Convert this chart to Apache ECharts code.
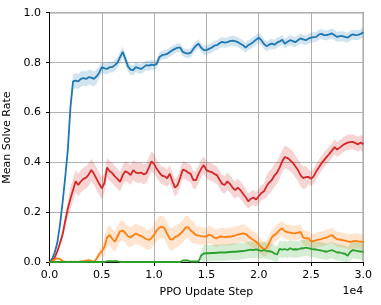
<!DOCTYPE html>
<html><head><meta charset="utf-8">
<script src="https://cdn.jsdelivr.net/npm/echarts@6/dist/echarts.min.js"></script>
<style>html,body{margin:0;padding:0;background:#fff}#c{width:381px;height:305px}</style>
</head><body><div id="c"></div>
<script>
const steps = [
0,250,500,750,1000,1250,1500,1750,2000,2250,
2500,2750,3000,3250,3500,3750,4000,4250,4500,4750,
5000,5250,5500,5750,6000,6250,6500,6750,7000,7250,
7500,7750,8000,8250,8500,8750,9000,9250,9500,9750,
10000,10250,10500,10750,11000,11250,11500,11750,12000,12250,
12500,12750,13000,13250,13500,13750,14000,14250,14500,14750,
15000,15250,15500,15750,16000,16250,16500,16750,17000,17250,
17500,17750,18000,18250,18500,18750,19000,19250,19500,19750,
20000,20250,20500,20750,21000,21250,21500,21750,22000,22250,
22500,22750,23000,23250,23500,23750,24000,24250,24500,24750,
25000,25250,25500,25750,26000,26250,26500,26750,27000,27250,
27500,27750,28000,28250,28500,28750,29000,29250,29500,29750,
30000];

const blueMean = [
0,.015,.04,.08,.15,.24,.34,.45,.62,.725,
.728,.725,.735,.738,.735,.742,.74,.735,.745,.76,
.782,.777,.775,.782,.782,.79,.80,.822,.843,.815,
.785,.772,.77,.782,.778,.775,.782,.79,.788,.792,
.79,.795,.822,.83,.832,.835,.843,.85,.855,.86,
.86,.843,.838,.836,.84,.855,.868,.876,.86,.85,
.85,.855,.86,.868,.87,.878,.883,.88,.882,.886,
.888,.886,.882,.876,.87,.86,.87,.876,.883,.892,
.9,.89,.875,.866,.872,.876,.872,.88,.885,.892,
.876,.884,.89,.886,.882,.89,.897,.893,.89,.896,
.9,.902,.903,.912,.915,.91,.91,.913,.917,.91,
.903,.906,.906,.903,.9,.908,.913,.91,.911,.915,
.922];
const blueBand = [
.003,.005,.008,.01,.012,.015,.015,.015,.02,.03,
.03,.03,.03,.03,.03,.03,.03,.03,.03,.022,
.022,.022,.022,.022,.022,.022,.022,.022,.022,.02,
.02,.02,.02,.02,.02,.02,.02,.02,.02,.02,
.018,.018,.018,.018,.018,.018,.018,.018,.018,.018,
.018,.018,.018,.018,.018,.018,.018,.018,.018,.018,
.02,.02,.02,.02,.02,.02,.02,.02,.02,.02,
.02,.02,.02,.02,.02,.02,.02,.02,.02,.02,
.02,.02,.02,.02,.02,.02,.02,.02,.02,.02,
.02,.02,.02,.02,.02,.02,.02,.02,.02,.02,
.02,.02,.02,.02,.02,.02,.02,.02,.02,.02,
.02,.02,.02,.02,.02,.02,.02,.02,.02,.02,
.02];

const redMean = [
0,.007,.02,.045,.077,.112,.165,.215,.255,.29,
.325,.31,.325,.335,.34,.352,.37,.355,.335,.315,
.297,.318,.38,.365,.358,.345,.335,.323,.35,.365,
.36,.35,.37,.36,.358,.36,.353,.357,.38,.405,
.395,.375,.36,.348,.345,.337,.355,.325,.3,.31,
.34,.372,.368,.36,.355,.33,.33,.355,.375,.39,
.37,.365,.362,.355,.35,.332,.315,.31,.325,.315,
.3,.29,.3,.29,.275,.262,.245,.255,.26,.252,
.265,.278,.285,.305,.32,.33,.348,.36,.38,.405,
.422,.418,.41,.4,.385,.37,.35,.338,.342,.343,
.335,.345,.365,.38,.397,.41,.423,.435,.448,.462,
.452,.46,.468,.475,.48,.482,.483,.478,.473,.48,
.474];
const redBand = [
.003,.005,.008,.012,.015,.02,.025,.03,.045,.045,
.045,.045,.045,.045,.045,.045,.045,.045,.045,.045,
.045,.04,.04,.04,.04,.04,.04,.04,.04,.04,
.04,.04,.04,.04,.04,.04,.04,.04,.04,.04,
.04,.035,.035,.035,.035,.035,.035,.035,.035,.035,
.035,.035,.035,.035,.035,.035,.035,.035,.035,.035,
.035,.035,.035,.035,.035,.035,.035,.035,.035,.035,
.035,.035,.035,.035,.035,.035,.03,.03,.03,.03,
.03,.03,.03,.045,.045,.045,.045,.045,.045,.045,
.045,.045,.045,.045,.045,.045,.045,.045,.045,.03,
.03,.03,.03,.03,.03,.03,.03,.03,.03,.03,
.03,.03,.03,.03,.03,.03,.03,.03,.03,.03,
.03];

const orangeMean = [
0,.005,.012,.017,.014,.006,.003,.002,.003,.002,
.003,.002,.004,.005,.007,.01,.006,.003,.015,.033,
.045,.062,.1,.11,.095,.083,.105,.125,.128,.118,
.105,.1,.108,.116,.11,.107,.1,.094,.09,.097,
.112,.128,.14,.143,.137,.115,.095,.092,.103,.106,
.115,.125,.14,.142,.128,.12,.11,.108,.106,.105,
.103,.112,.108,.1,.097,.103,.104,.102,.104,.103,
.106,.108,.112,.115,.117,.115,.105,.097,.09,.083,
.073,.062,.052,.058,.078,.1,.11,.118,.13,.137,
.125,.122,.12,.118,.117,.12,.123,.1,.097,.097,
.085,.085,.09,.092,.094,.098,.1,.105,.11,.1,
.093,.092,.09,.088,.085,.083,.085,.087,.085,.083,
.083];
const orangeBand = [
.004,.004,.004,.004,.004,.004,.004,.004,.004,.004,
.004,.004,.004,.004,.004,.004,.004,.004,.01,.015,
.02,.04,.04,.04,.04,.04,.04,.04,.04,.04,
.04,.04,.04,.04,.04,.04,.04,.04,.04,.04,
.04,.045,.045,.045,.045,.045,.045,.045,.045,.045,
.045,.045,.045,.045,.045,.045,.035,.035,.035,.035,
.035,.035,.035,.035,.035,.035,.035,.035,.035,.035,
.035,.035,.035,.035,.035,.035,.035,.035,.035,.035,
.035,.03,.03,.03,.03,.03,.03,.03,.03,.03,
.03,.03,.03,.03,.03,.03,.03,.03,.03,.03,
.03,.03,.03,.03,.03,.03,.03,.03,.03,.03,
.03,.03,.03,.03,.03,.03,.03,.03,.03,.03,
.03];

const greenMean = [
0,.002,.002,.002,.002,.002,.002,.002,.002,.002,
.002,.002,.002,.002,.002,.002,.002,.002,.002,.002,
.002,.002,.005,.005,.005,.005,.005,.002,.002,.002,
.002,.002,.002,.002,.002,.002,.002,.002,.002,.002,
.002,.002,.002,.002,.002,.002,.002,.002,.002,.002,
.002,.008,.008,.008,.004,.004,.004,.004,.028,.036,
.037,.037,.038,.038,.039,.04,.04,.04,.041,.042,
.043,.043,.044,.045,.046,.048,.05,.052,.05,.053,
.05,.046,.05,.047,.045,.043,.036,.032,.055,.052,
.054,.05,.057,.052,.053,.052,.056,.057,.06,.058,
.055,.053,.052,.05,.048,.045,.043,.047,.05,.045,
.04,.04,.037,.035,.027,.042,.05,.048,.046,.044,
.043];
const greenBand = [
.003,.003,.003,.003,.003,.003,.003,.003,.003,.003,
.003,.003,.003,.003,.003,.003,.003,.003,.003,.003,
.003,.003,.003,.003,.003,.003,.003,.003,.003,.003,
.003,.003,.003,.003,.003,.003,.003,.003,.003,.003,
.003,.003,.003,.003,.003,.003,.003,.003,.003,.003,
.003,.003,.003,.003,.003,.003,.003,.003,.02,.033,
.033,.033,.033,.033,.033,.033,.033,.033,.033,.033,
.033,.033,.033,.033,.033,.033,.033,.033,.033,.033,
.033,.033,.033,.033,.033,.033,.033,.033,.033,.033,
.033,.033,.033,.033,.033,.033,.033,.033,.033,.033,
.033,.033,.033,.033,.033,.033,.033,.033,.033,.033,
.033,.033,.033,.033,.033,.033,.033,.033,.033,.033,
.033];

const xTicks = [0, 5000, 10000, 15000, 20000, 25000, 30000];
const yTicks = [0, 0.2, 0.4, 0.6, 0.8, 1.0];

const FONT = 'DejaVu Sans';
const FS = 11;
const seriesDefs = [
  {name: 'blue', mean: blueMean, band: blueBand, color: '#1f77b4', fill: 'rgba(31,119,180,0.2)'},
  {name: 'red', mean: redMean, band: redBand, color: '#d62728', fill: 'rgba(214,39,40,0.2)'},
  {name: 'orange', mean: orangeMean, band: orangeBand, color: '#ff7f0e', fill: 'rgba(255,127,14,0.2)'},
  {name: 'green', mean: greenMean, band: greenBand, color: '#2ca02c', fill: 'rgba(44,160,44,0.2)'}
];

const series = [];
seriesDefs.forEach(function (d) {
  series.push({
    type: 'custom',
    name: d.name + '_band',
    silent: true,
    clip: true,
    z: 1,
    data: steps.map(function (s, i) { return [s, d.mean[i] - d.band[i], d.mean[i] + d.band[i]]; }),
    encode: {x: 0, y: [1, 2]},
    renderItem: function (params, api) {
      if (params.dataIndex !== 0) return null;
      const pts = [];
      for (let i = 0; i < steps.length; i++) pts.push(api.coord([steps[i], d.mean[i] + d.band[i]]));
      for (let i = steps.length - 1; i >= 0; i--) pts.push(api.coord([steps[i], d.mean[i] - d.band[i]]));
      return {type: 'polygon', shape: {points: pts}, style: {fill: d.fill, stroke: null}};
    }
  });
});
seriesDefs.forEach(function (d) {
  series.push({
    type: 'line',
    name: d.name,
    z: 3,
    showSymbol: false,
    symbol: 'none',
    clip: true,
    data: steps.map(function (s, i) { return [s, d.mean[i]]; }),
    lineStyle: {color: d.color, width: 1.8},
    itemStyle: {color: d.color}
  });
});

const chart = echarts.init(document.getElementById('c'), null, {renderer: 'canvas'});
chart.setOption({
  animation: false,
  backgroundColor: '#fff',
  grid: {left: 49.5, right: 17.7, top: 12.7, bottom: 42.5, containLabel: false, outerBoundsMode: 'none',
    show: true, borderColor: '#000', borderWidth: 1, backgroundColor: 'transparent'},
  xAxis: {
    type: 'value', min: xTicks[0], max: xTicks[xTicks.length - 1], interval: 5000,
    name: 'PPO Update Step', nameLocation: 'middle', nameGap: 24,
    nameTextStyle: {color: '#000', fontSize: FS, fontFamily: FONT},
    axisLine: {show: true, onZero: false, lineStyle: {color: '#000', width: 1}},
    axisTick: {show: true, inside: false, length: 3.5, lineStyle: {color: '#000', width: 1}},
    axisLabel: {color: '#000', fontSize: FS, fontFamily: FONT, margin: 7,
      formatter: function (v) { return (v / 10000).toFixed(1); }},
    splitLine: {show: true, lineStyle: {color: '#b0b0b0', width: 1}}
  },
  yAxis: {
    type: 'value', min: yTicks[0], max: yTicks[yTicks.length - 1], interval: 0.2,
    name: 'Mean Solve Rate', nameLocation: 'middle', nameGap: 31,
    nameTextStyle: {color: '#000', fontSize: FS, fontFamily: FONT},
    axisLine: {show: true, lineStyle: {color: '#000', width: 1}},
    axisTick: {show: true, inside: false, length: 3.5, lineStyle: {color: '#000', width: 1}},
    axisLabel: {color: '#000', fontSize: FS, fontFamily: FONT, margin: 8.5,
      formatter: function (v) { return v.toFixed(1); }},
    splitLine: {show: true, lineStyle: {color: '#b0b0b0', width: 1}}
  },
  graphic: [{
    type: 'text', x: 363.3, y: 291,
    style: {text: '1e4', fill: '#000', fontSize: FS, fontFamily: FONT, textAlign: 'right', textVerticalAlign: 'middle'}
  }],
  series: series
});
</script>
</body></html>
